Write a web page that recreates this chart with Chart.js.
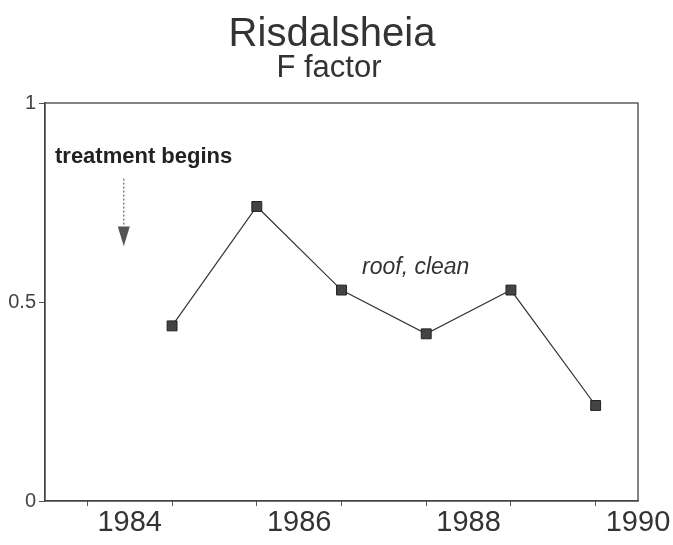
<!DOCTYPE html>
<html>
<head>
<meta charset="utf-8">
<script src="https://cdn.jsdelivr.net/npm/chart.js@4"></script>
<style>
  html, body { margin: 0; padding: 0; background: #fff; }
  #wrap { width: 673px; height: 545px; position: relative; }
</style>
</head>
<body>
<div id="wrap"><canvas id="c"></canvas></div>
<script>
// F factor, roof clean catchment, annual values plotted at mid-year
const years = [1984.5, 1985.5, 1986.5, 1987.5, 1988.5, 1989.5];
const fFactor = [0.44, 0.74, 0.53, 0.42, 0.53, 0.24];
const yearLabels = [1984, 1986, 1988, 1990];
const minorTicks = [1983.5, 1984.5, 1985.5, 1986.5, 1987.5, 1988.5, 1989.5];
const yTicks = [0, 0.5, 1];

const ink = '#333';
const font = 'Liberation Sans, Arial, Helvetica, sans-serif';

// titles, frame round the plot and the two notes
const notes = {
  id: 'notes',
  afterDraw(chart) {
    const { ctx, chartArea: a, scales: { x, y } } = chart;
    ctx.save();
    ctx.strokeStyle = '#444';
    ctx.lineWidth = 1.3;
    ctx.strokeRect(a.left, a.top, a.right - a.left, a.bottom - a.top);

    ctx.textBaseline = 'middle';
    ctx.textAlign = 'center';
    ctx.fillStyle = ink;
    ctx.font = '40px ' + font;
    ctx.fillText('Risdalsheia', 332, 35);
    ctx.font = '31px ' + font;
    ctx.fillText('F factor', 329, 68);

    ctx.fillStyle = '#222';
    ctx.font = 'bold 22px ' + font;
    ctx.textAlign = 'left';
    ctx.fillText('treatment begins', 55, 157);

    const ax = x.getPixelForValue(1983.93);
    const y0 = y.getPixelForValue(0.81), y1 = y.getPixelForValue(0.69), y2 = y.getPixelForValue(0.64);
    ctx.strokeStyle = '#444';
    ctx.setLineDash([2, 2]);
    ctx.lineWidth = 1;
    ctx.beginPath(); ctx.moveTo(ax, y0); ctx.lineTo(ax, y1); ctx.stroke();
    ctx.setLineDash([]);
    ctx.fillStyle = '#555';
    ctx.beginPath();
    ctx.moveTo(ax - 6, y1); ctx.lineTo(ax + 6, y1); ctx.lineTo(ax, y2); ctx.closePath();
    ctx.fill();

    ctx.fillStyle = '#333';
    ctx.font = 'italic 23px ' + font;
    ctx.fillText('roof, clean', 362, 268);
    ctx.restore();
  }
};

new Chart(document.getElementById('c'), {
  type: 'line',
  data: {
    datasets: [{
      data: years.map((yr, i) => ({ x: yr, y: fFactor[i] })),
      borderColor: '#333', borderWidth: 1.2,
      pointStyle: 'rect', pointRadius: 7, pointHoverRadius: 7,
      pointBackgroundColor: '#444', pointBorderColor: '#222', pointBorderWidth: 1,
      tension: 0
    }]
  },
  options: {
    responsive: true, maintainAspectRatio: false, animation: false,
    layout: { padding: { left: 0, right: 35, top: 103, bottom: 0 } },
    plugins: {
      legend: { display: false }, tooltip: { enabled: false },
      title: { display: false }
    },
    scales: {
      x: {
        type: 'linear', min: 1983, max: 1990,
        afterBuildTicks: s => { s.ticks = minorTicks.concat(yearLabels).map(v => ({ value: v })); },
        afterFit: s => { s.height = 44; },
        border: { display: true, color: '#444', width: 1.3 },
        grid: { drawOnChartArea: false, drawTicks: true, tickLength: 5,
          tickColor: c => (c.tick && Number.isInteger(c.tick.value)) ? 'rgba(0,0,0,0)' : '#555' },
        ticks: { color: ink, font: { family: font, size: 29 }, padding: 0, maxRotation: 0, autoSkip: false,
          callback: v => Number.isInteger(v) ? String(v) : '' }
      },
      y: {
        min: 0, max: 1,
        afterBuildTicks: s => { s.ticks = yTicks.map(v => ({ value: v })); },
        afterFit: s => { s.width = 45; },
        border: { display: true, color: '#444', width: 1.3 },
        grid: { drawOnChartArea: false, drawTicks: true, tickLength: 6, tickColor: '#555' },
        ticks: { color: '#444', font: { family: font, size: 20 }, padding: 3,
          callback: v => String(v) }
      }
    }
  },
  plugins: [notes]
});
</script>
</body>
</html>
